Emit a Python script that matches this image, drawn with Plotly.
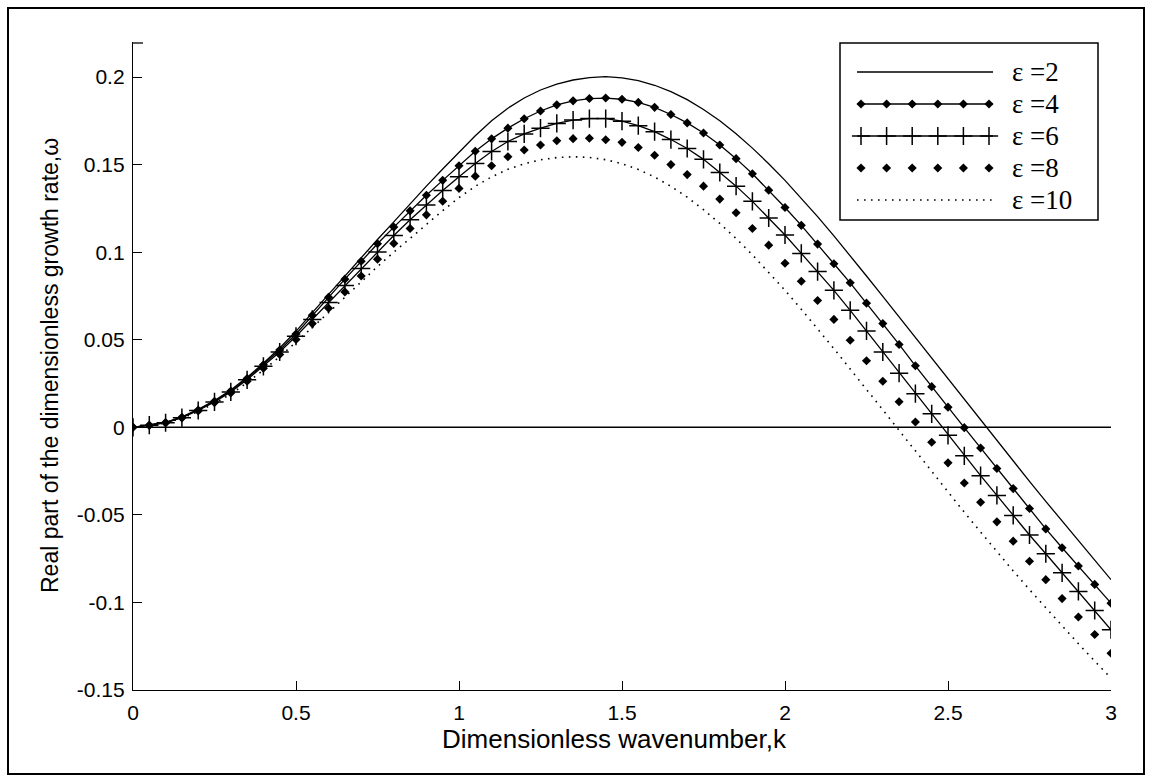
import plotly.graph_objects as go

# ---------------- data ----------------
k = [0.00, 0.05, 0.10, 0.15, 0.20, 0.25, 0.30, 0.35, 0.40, 0.45,
     0.50, 0.55, 0.60, 0.65, 0.70, 0.75, 0.80, 0.85, 0.90, 0.95,
     1.00, 1.05, 1.10, 1.15, 1.20, 1.25, 1.30, 1.35, 1.40, 1.45,
     1.50, 1.55, 1.60, 1.65, 1.70, 1.75, 1.80, 1.85, 1.90, 1.95,
     2.00, 2.05, 2.10, 2.15, 2.20, 2.25, 2.30, 2.35, 2.40, 2.45,
     2.50, 2.55, 2.60, 2.65, 2.70, 2.75, 2.80, 2.85, 2.90, 2.95,
     3.00]

eps2 = [0.0000, 0.0012, 0.0028, 0.0059, 0.0102, 0.0153, 0.0213, 0.0285, 0.0366, 0.0453,
        0.0548, 0.0655, 0.0760, 0.0866, 0.0970, 0.1072, 0.1173, 0.1276, 0.1377, 0.1475,
        0.1572, 0.1665, 0.1750, 0.1822, 0.1880, 0.1926, 0.1960, 0.1983, 0.1997, 0.2002,
        0.1995, 0.1979, 0.1953, 0.1917, 0.1871, 0.1815, 0.1750, 0.1676, 0.1594, 0.1505,
        0.1410, 0.1309, 0.1203, 0.1093, 0.0980, 0.0864, 0.0747, 0.0629, 0.0511, 0.0393,
        0.0275, 0.0157, 0.0039, -0.0078, -0.0194, -0.0309, -0.0423, -0.0536, -0.0648, -0.0759,
        -0.0870]

eps4 = [0.0000, 0.0012, 0.0027, 0.0057, 0.0099, 0.0149, 0.0207, 0.0278, 0.0357, 0.0441,
        0.0533, 0.0640, 0.0742, 0.0846, 0.0948, 0.1048, 0.1143, 0.1236, 0.1325, 0.1410,
        0.1493, 0.1576, 0.1647, 0.1708, 0.1762, 0.1806, 0.1841, 0.1864, 0.1877, 0.1880,
        0.1873, 0.1855, 0.1827, 0.1786, 0.1738, 0.1680, 0.1612, 0.1534, 0.1448, 0.1354,
        0.1255, 0.1153, 0.1046, 0.0934, 0.0825, 0.0709, 0.0592, 0.0473, 0.0351, 0.0232,
        0.0115, -0.0002, -0.0118, -0.0235, -0.0350, -0.0464, -0.0580, -0.0688, -0.0792, -0.0897,
        -0.1004]

eps6 = [0.0000, 0.0012, 0.0026, 0.0055, 0.0096, 0.0145, 0.0202, 0.0271, 0.0348, 0.0430,
        0.0520, 0.0616, 0.0713, 0.0810, 0.0906, 0.1001, 0.1095, 0.1185, 0.1269, 0.1352,
        0.1431, 0.1506, 0.1575, 0.1632, 0.1675, 0.1708, 0.1735, 0.1754, 0.1763, 0.1763,
        0.1748, 0.1722, 0.1688, 0.1643, 0.1592, 0.1530, 0.1455, 0.1377, 0.1290, 0.1195,
        0.1098, 0.0993, 0.0889, 0.0782, 0.0668, 0.0550, 0.0430, 0.0309, 0.0192, 0.0077,
        -0.0046, -0.0163, -0.0276, -0.0389, -0.0503, -0.0615, -0.0722, -0.0831, -0.0937, -0.1046,
        -0.1156]

eps8 = [0.0000, 0.0011, 0.0025, 0.0053, 0.0093, 0.0141, 0.0196, 0.0263, 0.0337, 0.0416,
        0.0502, 0.0592, 0.0680, 0.0773, 0.0864, 0.0960, 0.1050, 0.1135, 0.1213, 0.1291,
        0.1364, 0.1434, 0.1493, 0.1545, 0.1583, 0.1612, 0.1636, 0.1648, 0.1650, 0.1642,
        0.1627, 0.1598, 0.1553, 0.1500, 0.1443, 0.1377, 0.1303, 0.1225, 0.1135, 0.1040,
        0.0937, 0.0834, 0.0724, 0.0616, 0.0497, 0.0380, 0.0263, 0.0146, 0.0030, -0.0085,
        -0.0203, -0.0318, -0.0428, -0.0540, -0.0650, -0.0765, -0.0870, -0.0978, -0.1083, -0.1183,
        -0.1290]

eps10 = [0.0000, 0.0011, 0.0024, 0.0051, 0.0090, 0.0136, 0.0190, 0.0255, 0.0326, 0.0403,
         0.0485, 0.0570, 0.0655, 0.0743, 0.0830, 0.0918, 0.1000, 0.1080, 0.1160, 0.1237,
         0.1312, 0.1376, 0.1430, 0.1473, 0.1505, 0.1527, 0.1540, 0.1545, 0.1541, 0.1528,
         0.1505, 0.1472, 0.1429, 0.1376, 0.1314, 0.1243, 0.1164, 0.1078, 0.0985, 0.0886,
         0.0782, 0.0674, 0.0563, 0.0449, 0.0333, 0.0216, 0.0098, -0.0020, -0.0138, -0.0254,
         -0.0370, -0.0485, -0.0598, -0.0710, -0.0820, -0.0927, -0.1032, -0.1135, -0.1236, -0.1335,
         -0.1432]

legend_labels = ["\u03b5 =2", "\u03b5 =4", "\u03b5 =6", "\u03b5 =8", "\u03b5 =10"]

x_tickvals = [0, 0.5, 1, 1.5, 2, 2.5, 3]
x_ticktext = ["0", "0.5", "1", "1.5", "2", "2.5", "3"]
y_tickvals = [-0.15, -0.1, -0.05, 0, 0.05, 0.1, 0.15, 0.2]
y_ticktext = ["-0.15", "-0.1", "-0.05", "0", "0.05", "0.1", "0.15", "0.2"]
y_range = [-0.15, 0.22]
x_range = [0, 3]

x_title = "Dimensionless wavenumber,k"
y_title = "Real part of the dimensionless growth rate,\u03c9"

# ---------------- layout constants (pixels) ----------------
W, H = 1152, 782
PL, PR, PT, PB = 133, 1111, 42, 690      # plot area
SANS = "Liberation Sans, Arial, sans-serif"
SERIF = "Liberation Serif, Times New Roman, serif"
TICKF = 21
XTITLEF = 26
YTITLEF = 23
LW = 1.3

def px(xp):
    return (xp - PL) / (PR - PL)

def py(yp):
    return (PB - yp) / (PB - PT)

fig = go.Figure()

line_style = dict(color="black", width=LW)
dot_style = dict(color="black", width=1.6, dash="1.6px,5.4px")
diamond = dict(symbol="diamond", size=7, color="black")
plus = dict(symbol="cross-thin", size=13, line=dict(color="black", width=1.5))

fig.add_trace(go.Scatter(x=k, y=eps2, mode="lines", line=line_style, showlegend=False))
fig.add_trace(go.Scatter(x=k, y=eps4, mode="lines+markers", line=line_style,
                         marker=diamond, showlegend=False))
fig.add_trace(go.Scatter(x=k, y=eps6, mode="lines+markers", line=line_style,
                         marker=plus, showlegend=False))
fig.add_trace(go.Scatter(x=k, y=eps8, mode="markers", marker=diamond, showlegend=False))
fig.add_trace(go.Scatter(x=k, y=eps10, mode="lines", line=dot_style, showlegend=False))

# zero reference line
fig.add_shape(type="line", xref="x", yref="y", x0=x_range[0], x1=x_range[1], y0=0, y1=0,
              line=dict(color="black", width=1.5))
# small stub at the top of the y axis (as in the original)
fig.add_shape(type="line", xref="x2", yref="y2", x0=PL, x1=PL + 10, y0=PT + 1, y1=PT + 1,
              line=dict(color="black", width=LW))

# ---------------- custom legend (pixel overlay axis) ----------------
LEG_X0, LEG_X1, LEG_Y0, LEG_Y1 = 840, 1098, 43, 220
ROW0, ROWSTEP = 72, 32
SAMP_X0, SAMP_X1 = 857, 993
TEXT_X = 1010
n_mk = 6
mk_x = [SAMP_X0 + 4 + i * (SAMP_X1 - SAMP_X0 - 8) / (n_mk - 1) for i in range(n_mk)]
rows = [ROW0 + i * ROWSTEP for i in range(5)]

fig.add_shape(type="rect", xref="x2", yref="y2", x0=LEG_X0, x1=LEG_X1, y0=LEG_Y0, y1=LEG_Y1,
              line=dict(color="black", width=1.5), fillcolor="white", layer="below")

leg = dict(xaxis="x2", yaxis="y2", showlegend=False, hoverinfo="skip")
fig.add_trace(go.Scatter(x=[SAMP_X0, SAMP_X1], y=[rows[0]] * 2, mode="lines", line=line_style, **leg))
fig.add_trace(go.Scatter(x=[SAMP_X0, SAMP_X1], y=[rows[1]] * 2, mode="lines", line=line_style, **leg))
fig.add_trace(go.Scatter(x=mk_x, y=[rows[1]] * n_mk, mode="markers", marker=diamond, **leg))
fig.add_trace(go.Scatter(x=[SAMP_X0, SAMP_X1], y=[rows[2]] * 2, mode="lines", line=line_style, **leg))
fig.add_trace(go.Scatter(x=mk_x, y=[rows[2]] * n_mk, mode="markers", marker=plus, **leg))
fig.add_trace(go.Scatter(x=mk_x, y=[rows[3]] * n_mk, mode="markers", marker=diamond, **leg))
fig.add_trace(go.Scatter(x=[SAMP_X0, SAMP_X1], y=[rows[4]] * 2, mode="lines", line=dot_style, **leg))

for lab, ry in zip(legend_labels, rows):
    fig.add_annotation(xref="x2", yref="y2", x=TEXT_X, y=ry, text=lab, showarrow=False,
                       xanchor="left", yanchor="middle",
                       font=dict(family=SERIF, size=27, color="black"))

# ---------------- titles ----------------
fig.add_annotation(xref="paper", yref="paper", x=px(614), y=py(739), text=x_title,
                   showarrow=False, xanchor="center", yanchor="middle",
                   font=dict(family=SANS, size=XTITLEF, color="black"))
fig.add_annotation(xref="paper", yref="paper", x=px(50), y=py(366), text=y_title,
                   showarrow=False, xanchor="center", yanchor="middle", textangle=-90,
                   font=dict(family=SANS, size=YTITLEF, color="black"))

# outer frame
fig.add_shape(type="rect", xref="paper", yref="paper", x0=px(8), x1=px(1144), y0=py(774), y1=py(8),
              line=dict(color="black", width=2), fillcolor="rgba(0,0,0,0)")

axis_common = dict(showgrid=False, zeroline=False, showline=True, linecolor="black", linewidth=LW,
                   ticks="inside", ticklen=9, tickwidth=LW, tickcolor="black",
                   tickfont=dict(family=SANS, size=TICKF, color="black"), mirror=False)

fig.update_layout(
    width=W, height=H,
    margin=dict(l=PL, r=W - PR, t=PT, b=H - PB, pad=0),
    paper_bgcolor="white", plot_bgcolor="white",
    showlegend=False,
    font=dict(family=SANS, size=TICKF, color="black"),
    xaxis=dict(range=x_range, tickvals=x_tickvals, ticktext=x_ticktext,
               ticklabelstandoff=4, **axis_common),
    yaxis=dict(range=y_range, tickvals=y_tickvals, ticktext=y_ticktext,
               ticklabelstandoff=3, **axis_common),
    xaxis2=dict(range=[PL, PR], overlaying="x", anchor="y2", visible=False, fixedrange=True),
    yaxis2=dict(range=[PB, PT], overlaying="y", anchor="x2", visible=False, fixedrange=True),
)

fig.write_html("out.html")
